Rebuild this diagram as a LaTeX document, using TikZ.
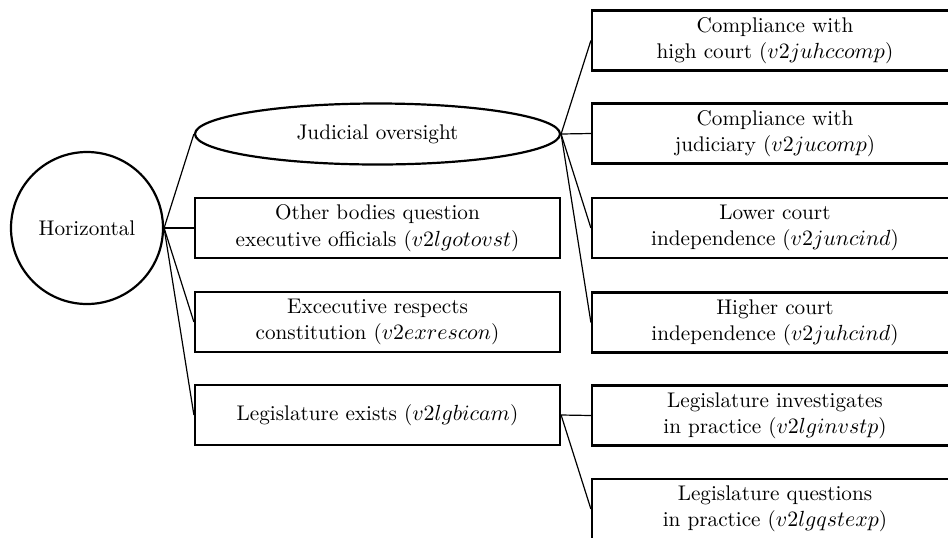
\documentclass[tikz,border=0pt]{standalone}
\usetikzlibrary{shapes.geometric}
\begin{document}
\begin{tikzpicture}[x=0.5pt,y=-0.5pt,
  every node/.style={font=\fontsize{10.6pt}{13.2pt}\selectfont},
  boxnode/.style={draw,line width=1.1pt,rectangle,minimum width=182.5pt,minimum height=30pt,inner sep=0pt,align=center},
  rbox/.style={boxnode,minimum width=183pt},
  link/.style={line width=0.6pt}]
\clip (0,0) rectangle (948,537);
\node[circle,draw,line width=1.1pt,minimum size=76pt,inner sep=0pt] (H) at (87,228) {Horizontal};
\node[ellipse,draw,line width=1.1pt,minimum width=182.5pt,minimum height=30.5pt,inner sep=0pt] (J) at (377.5,134) {Judicial oversight};
\node[boxnode] (O) at (377.5,228) {Other bodies question\\executive officials ($v2lgotovst$)};
\node[boxnode] (E) at (377.5,322) {Excecutive respects\\constitution ($v2exrescon$)};
\node[boxnode] (L) at (377.5,415) {Legislature exists ($v2lgbicam$)};
\node[rbox] (C1) at (775,40.5) {Compliance with\\high court ($v2juhccomp$)};
\node[rbox] (C2) at (775,133.5) {Compliance with\\judiciary ($v2jucomp$)};
\node[rbox] (C3) at (775,228) {Lower court\\independence ($v2juncind$)};
\node[rbox] (C4) at (775,322.5) {Higher court\\independence ($v2juhcind$)};
\node[rbox] (L1) at (775,415.5) {Legislature investigates\\in practice ($v2lginvstp$)};
\node[rbox] (L2) at (775,509) {Legislature questions\\in practice ($v2lgqstexp$)};
\foreach \t in {J,O,E,L} \draw[link] (H.east) -- (\t.west);
\foreach \t in {C1,C2,C3,C4} \draw[link] (J.east) -- (\t.west);
\foreach \t in {L1,L2} \draw[link] (L.east) -- (\t.west);
\end{tikzpicture}
\end{document}
